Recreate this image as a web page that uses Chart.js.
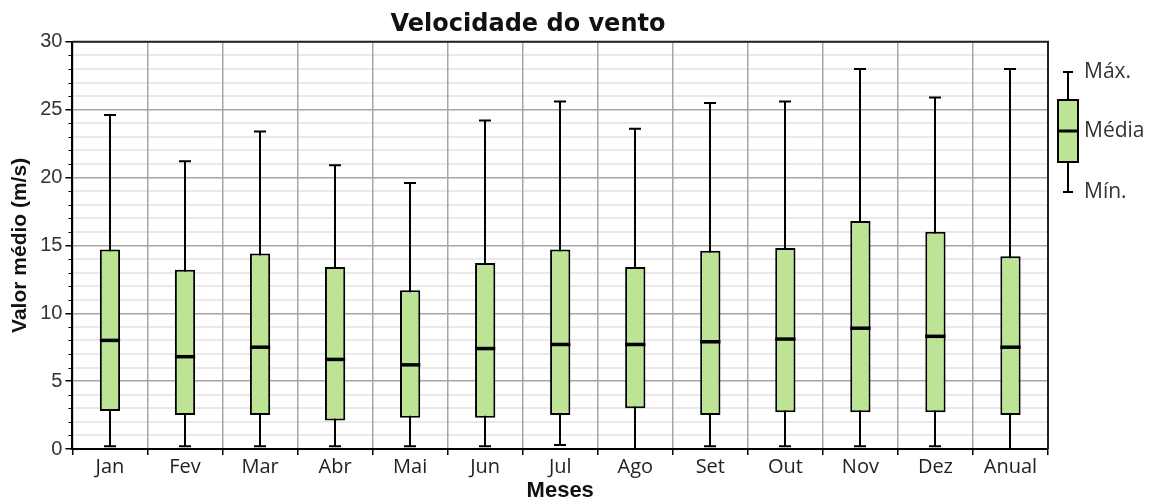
<!DOCTYPE html>
<html>
<head>
<meta charset="utf-8">
<script src="https://cdn.jsdelivr.net/npm/chart.js@4/dist/chart.umd.min.js"></script>
<style>
  html, body { margin: 0; padding: 0; background: #fff; }
  #wrap { width: 1160px; height: 502px; }
</style>
</head>
<body>
<div id="wrap"><canvas id="chart" width="1160" height="502"></canvas></div>
<script>
// dados (m/s)
const categories = ['Jan', 'Fev', 'Mar', 'Abr', 'Mai', 'Jun', 'Jul', 'Ago', 'Set', 'Out', 'Nov', 'Dez', 'Anual'];
const minValues  = [0.2, 0.2, 0.2, 0.2, 0.2, 0.2, 0.3, 0.0, 0.2, 0.2, 0.2, 0.2, 0.0];
const q1Values   = [2.8, 2.5, 2.5, 2.1, 2.3, 2.3, 2.5, 3.0, 2.5, 2.7, 2.7, 2.7, 2.5];
const meanValues = [8.0, 6.8, 7.5, 6.6, 6.2, 7.4, 7.7, 7.7, 7.9, 8.1, 8.9, 8.3, 7.5];
const q3Values   = [14.7, 13.2, 14.4, 13.4, 11.7, 13.7, 14.7, 13.4, 14.6, 14.8, 16.8, 16.0, 14.2];
const maxValues  = [24.6, 21.2, 23.4, 20.9, 19.6, 24.2, 25.6, 23.6, 25.5, 25.6, 28.0, 25.9, 28.0];
const legendLabels = ['Máx.', 'Média', 'Mín.'];

const BOX_FILL = '#bde394';

// bigodes, médias, moldura e legenda
const boxExtras = {
  id: 'boxExtras',
  beforeDatasetsDraw(chart) {
    const { ctx, scales: { x, y } } = chart;
    ctx.save();
    ctx.strokeStyle = '#000';
    ctx.lineWidth = 2;
    categories.forEach((c, i) => {
      const px = Math.round(x.getPixelForValue(i));
      const yMin = y.getPixelForValue(minValues[i]);
      const yMax = y.getPixelForValue(maxValues[i]);
      ctx.beginPath();
      ctx.moveTo(px, yMin); ctx.lineTo(px, yMax);
      ctx.moveTo(px - 6, yMax); ctx.lineTo(px + 6, yMax);
      ctx.moveTo(px - 6, yMin); ctx.lineTo(px + 6, yMin);
      ctx.stroke();
    });
    ctx.restore();
  },
  afterDatasetsDraw(chart) {
    const { ctx, scales: { y } } = chart;
    const meta = chart.getDatasetMeta(0);
    ctx.save();
    ctx.strokeStyle = '#000';
    ctx.lineWidth = 3.5;
    meta.data.forEach((bar, i) => {
      const py = y.getPixelForValue(meanValues[i]);
      ctx.beginPath();
      ctx.moveTo(bar.x - bar.width / 2, py);
      ctx.lineTo(bar.x + bar.width / 2, py);
      ctx.stroke();
    });
    ctx.restore();
  },
  afterDraw(chart) {
    const { ctx, chartArea: a, scales: { y } } = chart;
    ctx.save();
    // moldura superior e direita
    ctx.strokeStyle = '#222';
    ctx.lineWidth = 2;
    ctx.beginPath();
    ctx.moveTo(a.left, a.top); ctx.lineTo(a.right, a.top); ctx.lineTo(a.right, a.bottom);
    ctx.stroke();
    // marcas menores do eixo y
    ctx.lineWidth = 1;
    ctx.strokeStyle = '#000';
    for (let v = y.min; v <= y.max; v++) {
      if (v % 5 === 0) continue;
      const py = Math.round(y.getPixelForValue(v)) + 0.5;
      ctx.beginPath();
      ctx.moveTo(a.left - 4, py); ctx.lineTo(a.left, py);
      ctx.stroke();
    }
    // legenda
    const lx = 1068;
    ctx.strokeStyle = '#000';
    ctx.lineWidth = 2;
    ctx.beginPath();
    ctx.moveTo(lx, 72); ctx.lineTo(lx, 192);
    ctx.moveTo(lx - 5, 72); ctx.lineTo(lx + 5, 72);
    ctx.moveTo(lx - 5, 192); ctx.lineTo(lx + 5, 192);
    ctx.stroke();
    ctx.fillStyle = BOX_FILL;
    ctx.fillRect(lx - 10, 100, 20, 62);
    ctx.strokeRect(lx - 10, 100, 20, 62);
    ctx.lineWidth = 3;
    ctx.beginPath();
    ctx.moveTo(lx - 10, 131); ctx.lineTo(lx + 10, 131);
    ctx.stroke();
    ctx.fillStyle = '#333';
    ctx.font = '21px "Open Sans"';
    ctx.textBaseline = 'middle';
    ctx.fillText(legendLabels[0], 1084, 72);
    ctx.fillText(legendLabels[1], 1084, 131);
    ctx.fillText(legendLabels[2], 1084, 192);
    ctx.restore();
  }
};

new Chart(document.getElementById('chart'), {
  type: 'bar',
  data: {
    labels: categories,
    datasets: [{
      label: 'Caixa',
      data: categories.map((c, i) => [q1Values[i], q3Values[i]]),
      backgroundColor: BOX_FILL,
      borderColor: '#000',
      borderWidth: 2,
      borderSkipped: false,
      barPercentage: 0.27,
      categoryPercentage: 1
    }]
  },
  options: {
    responsive: false,
    animation: false,
    layout: { padding: { top: 6, right: 112, left: 8, bottom: 0 } },
    plugins: {
      legend: { display: false },
      tooltip: { enabled: false },
      title: {
        display: true,
        text: 'Velocidade do vento',
        color: '#111',
        font: { family: 'DejaVu Sans', size: 24, weight: 'bold' },
        padding: { top: 4, bottom: 3 }
      }
    },
    scales: {
      x: {
        grid: { offset: true, color: '#a6a6a6', lineWidth: 1.5, tickColor: '#000', tickLength: 6 },
        border: { color: '#000', width: 2 },
        ticks: { color: '#222', font: { family: 'Open Sans', size: 20 }, padding: 0 },
        title: {
          display: true, text: 'Meses', color: '#111',
          font: { family: 'Liberation Sans', size: 22, weight: 'bold', lineHeight: 1 },
          padding: { top: 1, bottom: 0 }
        }
      },
      y: {
        min: 0, max: 30,
        grid: {
          z: -2,
          color: c => (c.tick && c.tick.value % 5 === 0) ? '#a6a6a6' : '#e9e9e9',
          lineWidth: c => (c.tick && c.tick.value % 5 === 0) ? 1.5 : 2,
          tickColor: c => (c.tick && c.tick.value % 5 === 0) ? '#000' : 'rgba(0,0,0,0)',
          tickLength: 7
        },
        border: { color: '#000', width: 2 },
        ticks: {
          stepSize: 1, autoSkip: false,
          color: '#333', font: { family: 'Liberation Sans', size: 20 },
          padding: 3,
          callback: v => (v % 5 === 0 ? v : '')
        },
        title: {
          display: true, text: 'Valor médio (m/s)', color: '#111',
          font: { family: 'Liberation Sans', size: 21, weight: 'bold' },
          padding: { top: 0, bottom: 4 }
        }
      }
    }
  },
  plugins: [boxExtras]
});
</script>
</body>
</html>
